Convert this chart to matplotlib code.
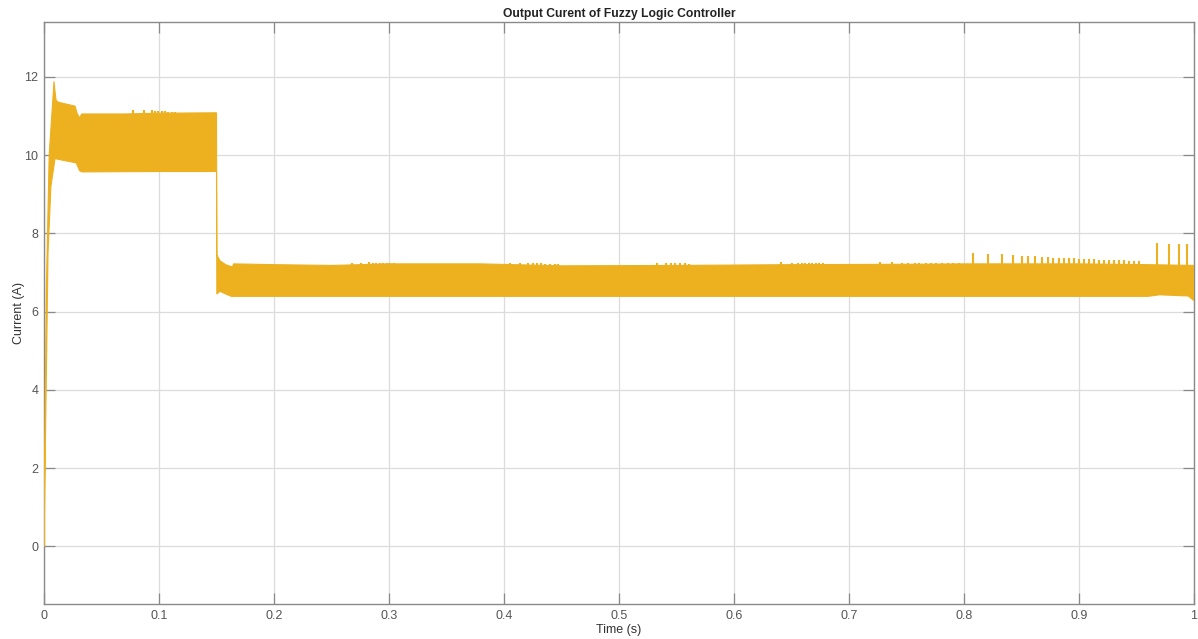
import numpy as np
import matplotlib
matplotlib.use("Agg")
import matplotlib.pyplot as plt

# ---- data (envelope of the dense switching ripple) ----
upper_t = [0.0, 0.001, 0.002, 0.0045, 0.0087, 0.0093, 0.0105, 0.0125, 0.027, 0.029,
           0.031, 0.0328, 0.07, 0.1, 0.1500, 0.1503, 0.153, 0.158, 0.164, 0.1648,
           0.2, 0.25, 0.3, 0.38, 0.45, 0.55, 0.65, 0.75, 0.8, 0.9, 0.96, 1.0]
upper_i = [0.0, 3.5, 6.5, 10.0, 11.88, 11.7, 11.4, 11.35, 11.25, 11.05,
           10.95, 11.05, 11.05, 11.07, 11.08, 7.45, 7.3, 7.2, 7.14, 7.22,
           7.2, 7.18, 7.22, 7.22, 7.17, 7.18, 7.2, 7.21, 7.22, 7.22, 7.2, 7.18]

lower_t = [0.0, 0.0035, 0.006, 0.0096, 0.011, 0.028, 0.031, 0.033, 0.1, 0.1500,
           0.1503, 0.153, 0.158, 0.163, 0.2, 0.5, 0.8, 0.96, 0.97, 0.995, 1.0]
lower_i = [0.0, 7.5, 9.2, 9.91, 9.9, 9.8, 9.6, 9.57, 9.58, 9.58,
           6.45, 6.52, 6.45, 6.39, 6.39, 6.39, 6.39, 6.39, 6.43, 6.4, 6.28]

# spikes above the ripple band
spike_t = [0.0777, 0.0870, 0.0936, 0.0965, 0.0994, 0.1023, 0.1050, 0.1080, 0.1110, 0.1140,
           0.268, 0.276, 0.283, 0.286, 0.289, 0.292, 0.295, 0.298, 0.301, 0.304,
           0.405, 0.414, 0.421, 0.425, 0.429, 0.432, 0.436, 0.440, 0.444, 0.447,
           0.533, 0.541, 0.545, 0.549, 0.553, 0.557, 0.561,
           0.641, 0.650, 0.656, 0.659, 0.662, 0.665, 0.668, 0.671, 0.674, 0.677,
           0.727, 0.737, 0.746, 0.751, 0.757, 0.761, 0.767, 0.771, 0.776, 0.781, 0.786, 0.790, 0.796,
           0.808, 0.821, 0.833, 0.843, 0.850, 0.856, 0.862, 0.8675, 0.8728, 0.8777,
           0.8826, 0.8870, 0.8913, 0.8957, 0.9000, 0.9043, 0.9087, 0.9130, 0.9174, 0.9217,
           0.9261, 0.9304, 0.9348, 0.9391, 0.9435, 0.9478, 0.9522,
           0.968, 0.9786, 0.987, 0.994]
spike_top = [11.15, 11.15, 11.14, 11.13, 11.13, 11.12, 11.12, 11.11, 11.11, 11.10,
             7.25, 7.25, 7.26, 7.25, 7.25, 7.25, 7.24, 7.24, 7.24, 7.23,
             7.24, 7.24, 7.24, 7.23, 7.23, 7.23, 7.22, 7.22, 7.22, 7.22,
             7.25, 7.25, 7.24, 7.24, 7.23, 7.23, 7.22,
             7.26, 7.25, 7.24, 7.24, 7.24, 7.24, 7.23, 7.23, 7.23, 7.23,
             7.27, 7.26, 7.25, 7.25, 7.25, 7.25, 7.25, 7.25, 7.25, 7.25, 7.25, 7.25, 7.25,
             7.50, 7.48, 7.46, 7.44, 7.43, 7.42, 7.41, 7.40, 7.39, 7.38,
             7.37, 7.37, 7.36, 7.36, 7.35, 7.35, 7.34, 7.34, 7.33, 7.33,
             7.32, 7.32, 7.31, 7.31, 7.30, 7.30, 7.29,
             7.75, 7.73, 7.73, 7.73]
spike_base = [11.0] * 10 + [7.1] * (len(spike_t) - 10)

x_ticks = [0, 0.1, 0.2, 0.3, 0.4, 0.5, 0.6, 0.7, 0.8, 0.9, 1]
x_labels = ["0", "0.1", "0.2", "0.3", "0.4", "0.5", "0.6", "0.7", "0.8", "0.9", "1"]
y_ticks = [0, 2, 4, 6, 8, 10, 12]

# ---- figure ----
plt.rcParams['font.family'] = ['Liberation Sans', 'DejaVu Sans']
color = '#EDB120'

fig = plt.figure(figsize=(11.98, 6.39), dpi=100)
ax = fig.add_axes([44 / 1198, 1 - 604 / 639, (1194 - 44) / 1198, (604 - 22) / 639])

poly_t = np.concatenate([upper_t, lower_t[::-1]])
poly_i = np.concatenate([upper_i, lower_i[::-1]])
ax.fill(poly_t, poly_i, facecolor=color, edgecolor=color, linewidth=0.8, zorder=3)
ax.vlines(spike_t, spike_base, spike_top, colors=color, linewidth=1.5, zorder=3)

ax.set_xlim(0, 1)
ax.set_ylim(-1.47, 13.4)
ax.set_xticks(x_ticks)
ax.set_xticklabels(x_labels)
ax.set_yticks(y_ticks)

ax.grid(True, color='#dcdcdc', linewidth=0.9, zorder=0)
ax.set_axisbelow(True)
for s in ax.spines.values():
    s.set_color('#8a8a8a')
    s.set_linewidth(1.0)
ax.tick_params(direction='in', length=8, width=0.9, color='#8a8a8a',
               labelcolor='#555555', labelsize=9, top=True, right=True)
ax.tick_params(axis='y', pad=4)
ax.tick_params(axis='x', pad=4)

ax.set_title("Output Curent of Fuzzy Logic Controller", fontsize=8.7, fontweight='bold',
             color='#222222', pad=3.5)
ax.set_xlabel("Time (s)", fontsize=9, color='#333333')
ax.set_ylabel("Current (A)", fontsize=9, color='#333333')
ax.xaxis.set_label_coords(0.5, (604 - 624) / 582)
ax.yaxis.set_label_coords((25 - 44) / 1150, 0.5)

fig.savefig("out.png", dpi=100, facecolor='white')
